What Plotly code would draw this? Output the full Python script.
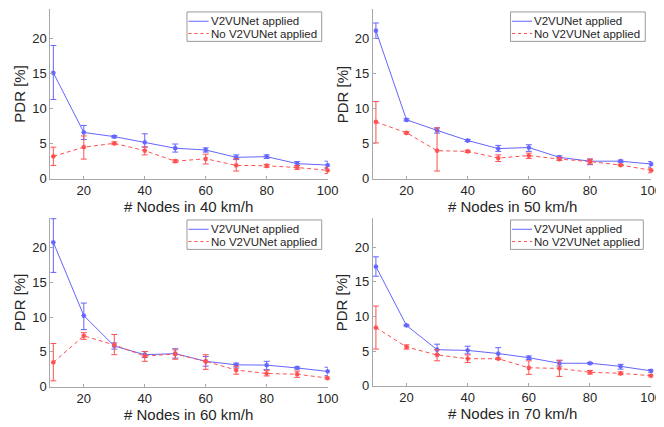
import plotly.graph_objects as go

nodes = [10, 20, 30, 40, 50, 60, 70, 80, 90, 100]
speeds = ["40 km/h", "50 km/h", "60 km/h", "70 km/h"]
series_names = ["V2VUNet applied", "No V2VUNet applied"]

# 40 km/h
v2v_40 = [15.1, 6.6, 6.0, 5.2, 4.35, 4.1, 3.05, 3.15, 2.15, 1.95]
v2v_40_up = [3.9, 1.0, 0.15, 1.2, 0.6, 0.3, 0.35, 0.25, 0.3, 0.55]
v2v_40_dn = [3.8, 1.0, 0.15, 0.7, 0.55, 0.3, 0.3, 0.25, 0.3, 0.5]
no_40 = [3.2, 4.5, 5.05, 4.0, 2.5, 2.85, 1.9, 1.85, 1.6, 1.2]
no_40_up = [1.3, 1.6, 0.2, 0.55, 0.2, 0.65, 0.95, 0.2, 0.25, 0.4]
no_40_dn = [1.3, 1.7, 0.2, 0.6, 0.2, 0.75, 0.8, 0.2, 0.25, 0.45]

# 50 km/h
v2v_50 = [21.1, 8.4, 6.9, 5.45, 4.3, 4.45, 3.05, 2.5, 2.5, 2.1]
v2v_50_up = [1.1, 0.15, 0.35, 0.15, 0.45, 0.4, 0.2, 0.3, 0.15, 0.35]
v2v_50_dn = [1.1, 0.15, 0.4, 0.15, 0.4, 0.55, 0.2, 0.5, 0.15, 0.45]
no_50 = [8.1, 6.55, 4.0, 3.9, 2.95, 3.3, 2.8, 2.45, 1.95, 1.2]
no_50_up = [2.9, 0.15, 3.25, 0.15, 0.45, 0.35, 0.2, 0.35, 0.1, 0.3]
no_50_dn = [3.0, 0.15, 2.9, 0.15, 0.5, 0.4, 0.2, 0.35, 0.1, 0.35]

# 60 km/h
v2v_60 = [20.7, 10.2, 5.85, 4.6, 4.75, 3.65, 3.15, 3.1, 2.7, 2.2]
v2v_60_up = [3.4, 1.8, 0.45, 0.45, 0.7, 0.7, 0.25, 0.55, 0.15, 0.6]
v2v_60_dn = [4.3, 2.0, 0.45, 0.4, 0.65, 0.7, 0.45, 0.65, 0.15, 0.6]
no_60 = [3.5, 7.3, 6.0, 4.4, 4.7, 3.65, 2.4, 1.9, 1.8, 1.25]
no_60_up = [2.7, 0.45, 1.5, 0.65, 0.6, 0.95, 0.55, 0.45, 0.45, 0.15]
no_60_dn = [2.65, 0.5, 1.4, 0.75, 0.75, 1.15, 0.6, 0.35, 0.45, 0.15]

# 70 km/h
v2v_70 = [17.2, 8.7, 5.2, 5.1, 4.65, 4.05, 3.25, 3.25, 2.8, 2.15]
v2v_70_up = [1.4, 0.1, 0.8, 0.6, 0.85, 0.25, 0.35, 0.1, 0.3, 0.2]
v2v_70_dn = [1.4, 0.1, 0.7, 0.5, 0.85, 0.25, 0.4, 0.1, 0.4, 0.2]
no_70 = [8.4, 5.6, 4.45, 3.9, 3.9, 2.6, 2.5, 1.95, 1.8, 1.45]
no_70_up = [3.1, 0.3, 0.75, 0.55, 0.1, 1.0, 1.2, 0.25, 0.2, 0.15]
no_70_dn = [3.1, 0.3, 0.85, 0.55, 0.1, 0.95, 1.15, 0.25, 0.2, 0.15]

x_ticks = [20, 40, 60, 80, 100]
y_ticks = [0, 5, 10, 15, 20]

panels = [
    (v2v_40, v2v_40_up, v2v_40_dn, no_40, no_40_up, no_40_dn),
    (v2v_50, v2v_50_up, v2v_50_dn, no_50, no_50_up, no_50_dn),
    (v2v_60, v2v_60_up, v2v_60_dn, no_60, no_60_up, no_60_dn),
    (v2v_70, v2v_70_up, v2v_70_dn, no_70, no_70_up, no_70_dn),
]

W, H = 664, 427
# pixel boxes: (left, right, top, bottom)
boxes = [(43, 325, 1, 174), (371, 654, 1, 174), (43, 325, 214, 386), (371, 654, 214, 385)]
# legend boxes: (left, top, right, bottom)
legend_boxes = [(182, 4, 319, 34), (511, 4, 648, 34), (182, 216, 319, 246), (511, 216, 646, 246)]

BLUE = "rgb(100,100,255)"
RED = "rgb(255,80,80)"
FONT = "Liberation Sans"
TXT = "#262626"
AX = "#a8a8a8"


def px(x):
    return x / W


def py(y):
    return 1 - y / H


fig = go.Figure()
layout = {}
annotations = []
shapes = []
for i, (b, bu, bd, r, ru, rd) in enumerate(panels):
    n = "" if i == 0 else str(i + 1)
    xa, ya = "x" + n, "y" + n
    fig.add_trace(go.Scatter(
        x=nodes, y=b, name=series_names[0], xaxis=xa, yaxis=ya, showlegend=False,
        mode="lines+markers", line=dict(color=BLUE, width=1),
        marker=dict(symbol="asterisk-open", size=4, color=BLUE, line=dict(color=BLUE, width=1.2)),
        error_y=dict(type="data", symmetric=False, array=bu, arrayminus=bd,
                     color=BLUE, thickness=1, width=3),
        cliponaxis=False,
    ))
    fig.add_trace(go.Scatter(
        x=nodes, y=r, name=series_names[1], xaxis=xa, yaxis=ya, showlegend=False,
        mode="lines+markers", line=dict(color=RED, width=1, dash="4px,3px"),
        marker=dict(symbol="asterisk-open", size=4, color=RED, line=dict(color=RED, width=1.2)),
        error_y=dict(type="data", symmetric=False, array=ru, arrayminus=rd,
                     color=RED, thickness=1, width=3),
        cliponaxis=False,
    ))
    L, R, T, B = boxes[i]
    layout["xaxis" + n] = dict(
        domain=[px(L), px(R)], anchor=ya, range=[9.0, 100], tickvals=x_ticks,
        ticks="inside", ticklen=3, tickcolor=AX, showline=True, linecolor=AX, linewidth=1,
        showgrid=False, zeroline=False, tickfont=dict(family=FONT, size=13, color=TXT),
    )
    layout["yaxis" + n] = dict(
        domain=[py(B), py(T)], anchor=xa, range=[0, 24.2], tickvals=y_ticks,
        ticks="inside", ticklen=3, tickcolor=AX, showline=True, linecolor=AX, linewidth=1,
        showgrid=False, zeroline=False, tickfont=dict(family=FONT, size=13, color=TXT),
    )
    # legend drawn as a box with samples and labels
    gl, gt, gr, gb = legend_boxes[i]
    shapes.append(dict(type="rect", xref="paper", yref="paper",
                       x0=px(gl), x1=px(gr), y0=py(gb), y1=py(gt),
                       line=dict(color="#9a9a9a", width=1), fillcolor="white", layer="above"))
    rows = [gt + 9.5, gt + 22]
    styles = [(BLUE, "solid"), (RED, "3px,3px")]
    for k in range(2):
        shapes.append(dict(type="line", xref="paper", yref="paper",
                           x0=px(gl + 1.5), x1=px(gl + 22), y0=py(rows[k]), y1=py(rows[k]),
                           line=dict(color=styles[k][0], width=1, dash=styles[k][1]), layer="above"))
        annotations.append(dict(
            text=series_names[k], x=px(gl + 22), y=py(rows[k]), xref="paper", yref="paper",
            showarrow=False, xanchor="left", yanchor="middle",
            font=dict(family=FONT, size=11.5, color=TXT),
        ))
    annotations.append(dict(
        text="# Nodes in " + speeds[i], x=px((L + R) / 2), y=py(B + 28),
        xref="paper", yref="paper", showarrow=False, xanchor="center", yanchor="middle",
        font=dict(family=FONT, size=15, color=TXT),
    ))
    annotations.append(dict(
        text="PDR [%]", x=px(L - 31), y=py((T + B) / 2), textangle=-90,
        xref="paper", yref="paper", showarrow=False, xanchor="center", yanchor="middle",
        font=dict(family=FONT, size=15, color=TXT),
    ))

fig.update_layout(
    width=W, height=H, margin=dict(l=0, r=0, t=0, b=0),
    paper_bgcolor="white", plot_bgcolor="white",
    annotations=annotations, shapes=shapes, **layout,
)
fig.write_html("out.html")
